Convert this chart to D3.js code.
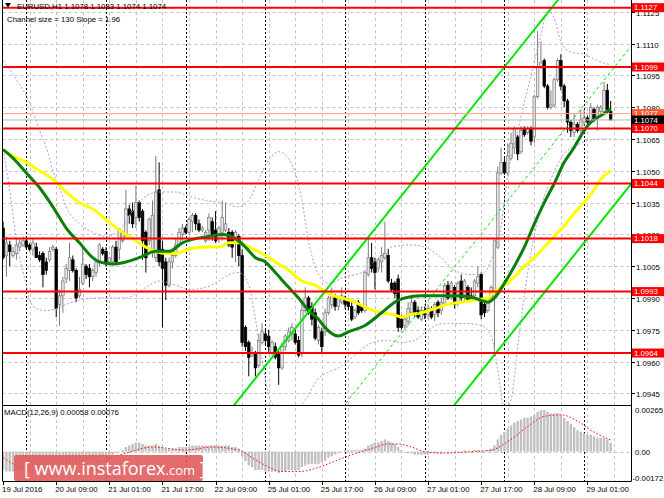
<!DOCTYPE html>
<html><head><meta charset="utf-8">
<script src="https://cdn.jsdelivr.net/npm/d3@7"></script>
<style>body{margin:0;background:#fff}svg{display:block;font-family:"Liberation Sans",Arial,sans-serif}</style>
</head><body><svg id="c" width="664" height="498"></svg>
<script>
// ---------- DATA ----------
const symbolTitle = "EURUSD,H1 1.1078 1.1083 1.1074 1.1074";
const channelTitle = "Channel size = 130 Slope = 1.96";
const macdTitle = "MACD(12,26,9) 0.00058 0.00076";
const opens = [1.1023,1.1010,1.1015,1.1010,1.1011,1.1014,1.1015,1.1017,1.1015,1.1013,1.1014,1.1010,1.1011,1.1007,1.1008,1.1013,1.1013,1.0987,1.0991,1.0999,
1.1003,1.1008,1.1003,1.0991,1.0997,1.1005,1.1004,1.1000,1.1002,1.1007,1.1013,1.1012,1.1007,1.1007,1.1014,1.1013,1.1017,1.1019,1.1032,1.1031,
1.1028,1.1035,1.1031,1.1021,1.1017,1.1013,1.1009,1.1041,1.1013,1.1007,1.0996,1.1007,1.1010,1.1015,1.1020,1.1023,1.1021,1.1026,1.1029,1.1025,
1.1022,1.1017,1.1022,1.1026,1.1022,1.1018,1.1021,1.1022,1.1021,1.1021,1.1016,1.1019,1.1010,1.0976,1.0969,1.0963,1.0964,1.0958,1.0969,1.0973,
1.0972,1.0964,1.0967,1.0964,1.0957,1.0967,1.0970,1.0973,1.0973,1.0970,1.0964,1.0984,1.0990,1.0986,1.0983,1.0970,1.0974,1.0974,1.0983,1.0987,
1.0990,1.0986,1.0988,1.0990,1.0989,1.0986,1.0981,1.0988,1.0986,1.0984,1.1001,1.1009,1.1007,1.1004,1.1007,1.1009,1.1010,1.0997,1.0997,1.0999,
1.0980,1.0977,1.0979,1.0983,1.0988,1.0984,1.0980,1.0984,1.0982,1.0984,1.0982,1.0988,1.0984,1.0987,1.0996,1.0990,1.0995,1.0988,1.0998,1.0990,
1.0995,1.0991,1.0991,1.0997,1.1001,1.0987,1.0984,1.0990,1.0990,1.1014,1.1049,1.1054,1.1049,1.1056,1.1061,1.1066,1.1059,1.1070,1.1068,1.1070,
1.1066,1.1085,1.1099,1.1102,1.1090,1.1080,1.1081,1.1093,1.1102,1.1090,1.1083,1.1073,1.1068,1.1072,1.1069,1.1073,1.1075,1.1073,1.1079,1.1075,
1.1078,1.1078,1.1088,1.1078];
const highs = [1.1026,1.1019,1.1017,1.1014,1.1018,1.1018,1.1019,1.1018,1.1016,1.1018,1.1016,1.1012,1.1012,1.1009,1.1014,1.1015,1.1014,1.0994,1.1000,1.1006,
1.1016,1.1010,1.1004,1.1000,1.1014,1.1006,1.1006,1.1004,1.1008,1.1016,1.1014,1.1014,1.1009,1.1015,1.1017,1.1023,1.1022,1.1041,1.1034,1.1035,
1.1043,1.1036,1.1032,1.1022,1.1028,1.1036,1.1057,1.1054,1.1017,1.1009,1.1009,1.1013,1.1018,1.1023,1.1025,1.1024,1.1028,1.1030,1.1030,1.1027,
1.1024,1.1022,1.1030,1.1028,1.1031,1.1024,1.1036,1.1035,1.1023,1.1022,1.1022,1.1020,1.1013,1.0977,1.0970,1.0967,1.0965,1.0973,1.0978,1.0975,
1.0975,1.0970,1.0969,1.0965,1.0969,1.0973,1.0976,1.0978,1.0975,1.0972,1.0989,1.0995,1.0991,1.0988,1.0985,1.0977,1.0976,1.0985,1.0991,1.0995,
1.0992,1.0991,1.0995,1.0991,1.0990,1.0988,1.0985,1.0989,1.0987,1.1003,1.1018,1.1016,1.1009,1.1009,1.1014,1.1026,1.1013,1.0999,1.0998,1.1001,
1.0982,1.0982,1.0988,1.0990,1.0989,1.0986,1.0986,1.0986,1.0987,1.0986,1.0988,1.0989,1.0990,1.0997,1.0998,1.0998,1.0996,1.0998,1.1001,1.0999,
1.0996,1.0995,1.0999,1.1005,1.1002,1.0988,1.0990,1.0996,1.1018,1.1052,1.1061,1.1056,1.1063,1.1068,1.1071,1.1067,1.1071,1.1071,1.1071,1.1071,
1.1086,1.1116,1.1111,1.1103,1.1091,1.1088,1.1094,1.1103,1.1105,1.1091,1.1084,1.1074,1.1077,1.1073,1.1079,1.1079,1.1076,1.1082,1.1080,1.1081,
1.1081,1.1092,1.1091,1.1083];
const lows = [1.1008,1.1000,1.1005,1.1009,1.1008,1.1012,1.1014,1.1013,1.1012,1.1010,1.1009,1.1007,1.0995,1.1001,1.1007,1.1012,1.0981,1.0977,1.0983,1.0997,
1.0998,1.1002,1.0988,1.0990,1.0996,1.0999,1.0995,1.0998,1.1000,1.1005,1.1010,1.1005,1.1006,1.1006,1.1006,1.1008,1.1016,1.1019,1.1025,1.1023,
1.1023,1.1026,1.1008,1.1002,1.1015,1.1009,1.1007,1.1005,1.0976,1.0989,1.0995,1.1004,1.1009,1.1014,1.1017,1.1020,1.1020,1.1021,1.1022,1.1021,
1.1021,1.1016,1.1017,1.1017,1.1016,1.1016,1.1017,1.1021,1.1014,1.1009,1.1007,1.1005,1.0967,1.0965,1.0953,1.0962,1.0953,1.0957,1.0968,1.0968,
1.0964,1.0963,1.0961,1.0949,1.0956,1.0965,1.0969,1.0970,1.0968,1.0962,1.0962,1.0983,1.0982,1.0977,1.0970,1.0968,1.0964,1.0972,1.0982,1.0985,
1.0984,1.0984,1.0987,1.0985,1.0984,1.0979,1.0980,1.0982,1.0983,1.0983,1.1000,1.1002,1.0994,1.1002,1.1002,1.1008,1.0997,1.0993,1.0990,1.0974,
1.0975,1.0975,1.0977,1.0982,1.0981,1.0980,1.0979,1.0980,1.0980,1.0980,1.0979,1.0981,1.0982,1.0986,1.0989,1.0989,1.0985,1.0986,1.0988,1.0989,
1.0988,1.0988,1.0990,1.0995,1.0980,1.0981,1.0983,1.0989,1.0963,1.1013,1.1048,1.1048,1.1048,1.1055,1.1058,1.1055,1.1058,1.1066,1.1067,1.1062,
1.1063,1.1084,1.1098,1.1089,1.1079,1.1079,1.1080,1.1092,1.1088,1.1080,1.1068,1.1066,1.1066,1.1068,1.1068,1.1071,1.1072,1.1072,1.1073,1.1069,
1.1077,1.1077,1.1078,1.1074];
const closes = [1.1009,1.1016,1.1012,1.1012,1.1015,1.1016,1.1017,1.1014,1.1013,1.1016,1.1009,1.1008,1.1001,1.1003,1.1012,1.1014,1.0985,1.0991,1.0998,1.1004,
1.1009,1.1003,1.0990,1.0994,1.1006,1.1001,1.1000,1.1003,1.1007,1.1015,1.1011,1.1007,1.1009,1.1014,1.1007,1.1022,1.1021,1.1032,1.1029,1.1025,
1.1035,1.1028,1.1017,1.1009,1.1027,1.1029,1.1040,1.1007,1.1004,1.0996,1.1007,1.1010,1.1015,1.1021,1.1023,1.1021,1.1027,1.1029,1.1025,1.1022,
1.1023,1.1021,1.1028,1.1019,1.1017,1.1023,1.1028,1.1025,1.1015,1.1014,1.1021,1.1010,1.0969,1.0967,1.0962,1.0964,1.0957,1.0970,1.0974,1.0970,
1.0967,1.0969,1.0962,1.0957,1.0967,1.0972,1.0974,1.0976,1.0969,1.0963,1.0984,1.0990,1.0983,1.0980,1.0971,1.0976,1.0967,1.0983,1.0990,1.0991,
1.0986,1.0990,1.0991,1.0987,1.0986,1.0980,1.0984,1.0983,1.0984,1.1002,1.1009,1.1004,1.1002,1.1008,1.1010,1.1011,1.0998,1.0994,1.0992,1.0976,
1.0976,1.0980,1.0985,1.0988,1.0983,1.0981,1.0984,1.0982,1.0985,1.0981,1.0987,1.0983,1.0988,1.0996,1.0990,1.0997,1.0987,1.0997,1.0990,1.0998,
1.0989,1.0989,1.0998,1.1000,1.0982,1.0983,1.0990,1.0995,1.1017,1.1049,1.1054,1.1049,1.1057,1.1063,1.1070,1.1058,1.1069,1.1067,1.1070,1.1064,
1.1085,1.1099,1.1101,1.1090,1.1080,1.1081,1.1093,1.1102,1.1090,1.1083,1.1073,1.1069,1.1072,1.1069,1.1074,1.1075,1.1073,1.1080,1.1074,1.1080,
1.1080,1.1088,1.1079,1.1074];

// MACD main line (shown as histogram), in units of 0.0001
const macdMain = [-12,-13,-13,-13,-13,-13,-12,-12,-11,-11,-10,-10,-10,-10,-9,-9,-11,-11,-10,-9,
-8,-8,-8,-8,-7,-6,-6,-5,-5,-4,-3,-3,-2,-2,-1,0,1,3,4,5,
6,6,5,4,4,4,5,4,3,2,2,2,2,3,3,3,3,4,4,4,
4,4,4,4,4,4,4,4,4,3,3,2,-3,-6,-9,-10,-12,-12,-12,-13,
-13,-13,-13,-14,-13,-13,-12,-12,-12,-12,-10,-9,-8,-8,-8,-8,-7,-6,-4,-3,
-2,-1,0,1,1,1,1,1,1,2,4,5,6,6,7,8,7,6,5,3,
1,0,-1,-1,-2,-2,-2,-2,-2,-1,-1,-1,-1,0,0,0,0,0,0,1,
0,0,1,1,0,0,1,2,4,8,11,13,15,17,19,20,21,22,22,23,
24,26,27,27,26,25,25,25,24,22,20,18,16,14,13,12,11,11,10,9,
9,9,8,5.8];
// MACD signal line points [bar, value*1e4]
const macdSignal = [[0,-4],[3,-8],[7,-12],[12,-13],[18,-11],[25,-8],[31,-5],[37,-1],[45,3],[55,1],[63,3],[71,1],[75,-4],[79,-9],[84,-13],[89,-13],[94,-11],[99,-7],[105,-2],[111,2],[116,5],[119,5],[123,3],[127,0],[133,-1],[141,0],[147,1],[153,8],[159,18],[163,23],[168,24],[173,20],[177,14],[183,7.6]];

// Moving averages [bar, price]
const maGreen = [[0,1.1060],[3,1.1056],[7,1.1049],[11,1.1042],[15,1.1033],[19,1.1023],[23,1.1016],[27,1.1009],[29,1.1007],[33,1.1006],[37,1.1007],[41,1.1009],[46,1.1012],[50,1.1012],[54,1.1016],[58,1.1018],[62,1.1019],[66,1.1020],[70,1.1018],[73,1.1014],[76,1.1009],[79,1.1007],[82,1.1002],[86,1.0995],[89,1.0990],[92,1.0984],[95,1.0980],[97,1.0976],[101,1.0972],[104,1.0974],[109,1.0977],[114,1.0983],[119,1.0989],[121,1.0990],[126,1.0991],[132,1.0991],[137,1.0991],[142,1.0990],[146,1.0988],[148,1.0990],[151,1.0997],[154,1.1005],[157,1.1014],[160,1.1025],[163,1.1035],[166,1.1044],[169,1.1054],[172,1.1061],[175,1.1069],[177,1.1073],[180,1.1076],[183,1.1079]];
const maYellow = [[0,1.1060],[3,1.1057],[7,1.1054],[11,1.1050],[15,1.1046],[19,1.1040],[23,1.1035],[27,1.1032],[31,1.1027],[35,1.1022],[39,1.1018],[43,1.1014],[46,1.1012],[49,1.1011],[52,1.1011],[56,1.1013],[61,1.1014],[65,1.1014],[68,1.1016],[71,1.1016],[74,1.1014],[78,1.1011],[82,1.1007],[86,1.1003],[90,1.0998],[94,1.0996],[98,1.0992],[102,1.0990],[106,1.0988],[110,1.0985],[114,1.0983],[118,1.0982],[120,1.0981],[122,1.0982],[126,1.0983],[130,1.0985],[134,1.0987],[138,1.0988],[142,1.0989],[146,1.0990],[148,1.0993],[151,1.0996],[154,1.1000],[157,1.1005],[160,1.1009],[163,1.1014],[166,1.1019],[169,1.1024],[172,1.1030],[175,1.1035],[178,1.1041],[180,1.1046],[183,1.1050]];
// Bollinger bands [bar, price]
const bandUpper = [[0,1.1102],[4,1.1093],[8,1.1082],[11,1.1069],[13,1.1061],[15,1.1050],[17,1.1042],[19,1.1033],[23,1.1025],[27,1.1021],[31,1.1019],[35,1.1022],[39,1.1031],[43,1.1038],[47,1.1040],[52,1.1040],[56,1.1038],[61,1.1036],[66,1.1035],[71,1.1033],[74,1.1036],[77,1.1046],[80,1.1055],[83,1.1059],[87,1.1053],[90,1.1036],[92,1.1017],[95,1.1001],[98,1.0997],[103,1.1000],[108,1.1002],[113,1.1009],[117,1.1014],[123,1.1015],[127,1.1014],[132,1.1009],[136,1.1003],[141,1.1001],[145,1.1002],[147,1.1008],[150,1.1024],[152,1.1048],[155,1.1069],[159,1.1095],[162,1.1114],[164,1.1126],[166,1.1122],[168,1.1111],[171,1.1106],[175,1.1105],[179,1.1102],[183,1.1100]];
const bandLower = [[0,1.1060],[2,1.1041],[4,1.1017],[7,1.0996],[8,1.0989],[10,1.0985],[13,1.0984],[16,1.0985],[19,1.0987],[23,1.0989],[28,1.0990],[32,1.0990],[37,1.0990],[41,1.0993],[44,1.0996],[47,1.0998],[52,1.0996],[56,1.0994],[61,1.0995],[65,1.0998],[68,1.1001],[71,1.1002],[74,1.0996],[76,1.0980],[78,1.0961],[80,1.0944],[83,1.0937],[88,1.0937],[91,1.0942],[95,1.0952],[98,1.0955],[101,1.0957],[106,1.0963],[110,1.0968],[115,1.0970],[120,1.0969],[124,1.0970],[128,1.0975],[133,1.0978],[139,1.0978],[144,1.0977],[147,1.0972],[149,1.0956],[151,1.0937],[153,1.0942],[155,1.0967],[158,1.1002],[161,1.1027],[165,1.1046],[169,1.1058],[174,1.1063],[179,1.1065],[183,1.1065]];

// Price channel: upper line anchor [bar, price], slope per bar, channel size
const channelAnchor = [166.3, 1.1129];
const channelSlope = 0.000196;
const channelSize = 0.0130;

// Horizontal levels
const redLevels = [1.1127, 1.1099, 1.1070, 1.1044, 1.1018, 1.0993, 1.0964];
const askLevel = 1.1077, bidLevel = 1.1074;
const priceTicks = [1.1125,1.1110,1.1095,1.1080,1.1065,1.1050,1.1035,1.1020,1.1005,1.0990,1.0975,1.0960,1.0945];
const macdTicks = [0.00265, 0.00, -0.00172];
const macdTickLabels = ["0.00265","0.00","-0.00172"];
const timeLabelBars = [0,16,32,48,64,80,96,112,128,144,160,176];
const timeLabels = ["19 Jul 2016","20 Jul 09:00","21 Jul 01:00","21 Jul 17:00","22 Jul 09:00","25 Jul 01:00","25 Jul 17:00","26 Jul 09:00","27 Jul 01:00","27 Jul 17:00","28 Jul 09:00","29 Jul 01:00"];
const daySeparatorBars = [7,31,55,79,103,127,151,175];

// ---------- DRAW ----------
const svg = d3.select("#c");
const FS = "7.8px";
const PL = 2.5, PR = 631, MT = 0, MB = 405, DT = 405, DB = 481;
const n = closes.length;
const x = d3.scaleLinear().domain([0, 183]).range([3.1, 3.1 + 183 * 3.32]);
const y = d3.scaleLinear().domain([1.0945, 1.1125]).range([393.3, 11.9]);
const ym = d3.scaleLinear().domain([-0.00172, 0.00265]).range([478, 411]);

const defs = svg.append("defs");
defs.append("clipPath").attr("id","cm").append("rect").attr("x",PL).attr("y",MT).attr("width",PR-PL).attr("height",MB-MT);
defs.append("clipPath").attr("id","cd").append("rect").attr("x",PL).attr("y",DT).attr("width",PR-PL).attr("height",DB-DT);

svg.append("rect").attr("width",664).attr("height",498).attr("fill","#fff");

// grid
const grid = svg.append("g");
priceTicks.forEach(p => grid.append("line").attr("x1",PL).attr("x2",PR).attr("y1",Math.round(y(p))+0.5).attr("y2",Math.round(y(p))+0.5)
  .attr("stroke","#c4c4c4").attr("stroke-dasharray","3,3"));
d3.range(0, 190, 8).forEach(b => { const xx = Math.round(x(b))+0.5; if (xx > PL+1 && xx < PR)
  grid.append("line").attr("x1",xx).attr("x2",xx).attr("y1",MT).attr("y2",DB).attr("stroke","#c4c4c4").attr("stroke-dasharray","3,3"); });
grid.append("line").attr("x1",PL).attr("x2",PR).attr("y1",Math.round(ym(0))+0.5).attr("y2",Math.round(ym(0))+0.5).attr("stroke","#c4c4c4").attr("stroke-dasharray","3,3");
daySeparatorBars.forEach(b => { const xx = Math.round(x(b))+0.5;
  grid.append("line").attr("x1",xx).attr("x2",xx).attr("y1",MT).attr("y2",DB).attr("stroke","#000").attr("stroke-dasharray","2,2").attr("stroke-width",1); });

// main panel content
const main = svg.append("g").attr("clip-path","url(#cm)");

// candles
const cg = main.append("g");
for (let i = 0; i < n; i++) {
  const bull = closes[i] >= opens[i];
  const cx = x(i);
  cg.append("line").attr("x1",cx).attr("x2",cx).attr("y1",y(highs[i])).attr("y2",y(lows[i]))
    .attr("stroke", bull ? "#7a7a7a" : "#000").attr("stroke-width",1);
  const top = y(Math.max(opens[i], closes[i])), bot = y(Math.min(opens[i], closes[i]));
  cg.append("rect").attr("x",cx-1.3).attr("width",2.6).attr("y",top).attr("height",Math.max(1,bot-top))
    .attr("fill", bull ? "#e4e4e4" : "#000").attr("stroke", bull ? "#7a7a7a" : "#000").attr("stroke-width",0.7);
}

const ln = d3.line().x(d => x(d[0])).y(d => y(d[1])).curve(d3.curveMonotoneX);
// bands
[bandUpper, bandLower].forEach(b => main.append("path").attr("d", ln(b)).attr("fill","none")
  .attr("stroke","#c08ef0").attr("stroke-width",1).attr("stroke-dasharray","2,2"));
// MAs
main.append("path").attr("d", ln(maYellow)).attr("fill","none").attr("stroke","#ffff00").attr("stroke-width",3);
main.append("path").attr("d", ln(maGreen)).attr("fill","none").attr("stroke","#0a7f0a").attr("stroke-width",3);

// channel
const chPrice = (b, off) => channelAnchor[1] + (b - channelAnchor[0]) * channelSlope - off;
[[0, 2, null], [channelSize/2, 1, "3,3"], [channelSize, 2, null]].forEach(([off, w, dash]) => {
  const pts = [[40, chPrice(40, off)], [195, chPrice(195, off)]];
  const p = main.append("path").attr("d", d3.line().x(d => x(d[0])).y(d => y(d[1]))(pts)).attr("fill","none")
    .attr("stroke","#00e600").attr("stroke-width",w);
  if (dash) p.attr("stroke-dasharray",dash);
});

// horizontal levels
main.append("line").attr("x1",PL).attr("x2",PR).attr("y1",y(askLevel)).attr("y2",y(askLevel)).attr("stroke","#ff9f80").attr("stroke-width",1);
main.append("line").attr("x1",PL).attr("x2",PR).attr("y1",y(bidLevel)).attr("y2",y(bidLevel)).attr("stroke","#b8b8b8").attr("stroke-width",1);
redLevels.forEach(p => main.append("line").attr("x1",PL).attr("x2",PR).attr("y1",y(p)).attr("y2",y(p)).attr("stroke","#ff0000").attr("stroke-width",2));

// MACD panel
const md = svg.append("g").attr("clip-path","url(#cd)");
macdMain.forEach((v, i) => {
  const val = v / 10000;
  md.append("rect").attr("x", x(i)-1.2).attr("width",2.4)
    .attr("y", Math.min(ym(val), ym(0))).attr("height", Math.max(0.5, Math.abs(ym(val)-ym(0))))
    .attr("fill","#c0c0c0");
});
md.append("path").attr("d", d3.line().x(d => x(d[0])).y(d => ym(d[1]/10000)).curve(d3.curveMonotoneX)(macdSignal))
  .attr("fill","none").attr("stroke","#ff0000").attr("stroke-width",1).attr("stroke-dasharray","1.5,2");

// frames
const fr = svg.append("g").attr("stroke","#000").attr("stroke-width",1);
fr.append("line").attr("x1",2.5).attr("x2",2.5).attr("y1",0).attr("y2",DB);
fr.append("line").attr("x1",PR+0.5).attr("x2",PR+0.5).attr("y1",0).attr("y2",DB);
fr.append("line").attr("x1",2.5).attr("x2",PR+0.5).attr("y1",MB+0.5).attr("y2",MB+0.5);
fr.append("line").attr("x1",2.5).attr("x2",PR+0.5).attr("y1",DB+0.5).attr("y2",DB+0.5);

// right axis labels
const ax = svg.append("g").attr("font-size",FS);
priceTicks.forEach(p => {
  const yy = Math.round(y(p))+0.5;
  ax.append("line").attr("x1",PR+0.5).attr("x2",PR+4).attr("y1",yy).attr("y2",yy).attr("stroke","#000");
  ax.append("text").attr("x",636).attr("y",yy+1.5).attr("dominant-baseline","middle").text(p.toFixed(4));
});
macdTicks.forEach((v, k) => {
  ax.append("text").attr("x",k===2?632.5:635).attr("y",ym(v)+(k===0?0:1)).attr("dominant-baseline","middle").text(macdTickLabels[k]);
});
// level boxes
function box(p, fill, col) {
  ax.append("rect").attr("x",PR+1).attr("y",y(p)-4.5).attr("width",664-PR-1).attr("height",9).attr("fill",fill);
  ax.append("text").attr("x",634).attr("y",y(p)+0.5).attr("dominant-baseline","middle").attr("fill",col).text(p.toFixed(4));
}
redLevels.filter(p => p !== 1.1070).forEach(p => box(p, "#ff0000", "#fff"));
box(askLevel, "#ff5a30", "#fff");
box(bidLevel, "#000", "#fff");
box(1.1070, "#ff0000", "#fff");

// time axis
timeLabelBars.forEach((b, k) => {
  const xx = Math.round(x(b))+0.5;
  ax.append("line").attr("x1",xx).attr("x2",xx).attr("y1",DB).attr("y2",DB+4).attr("stroke","#000");
  ax.append("text").attr("x",x(b)-1).attr("y",492).text(timeLabels[k]);
});

// headers
const hd = svg.append("g").attr("font-size",FS);
hd.append("path").attr("d","M5,3 L11,3 L8,7.5 Z").attr("fill","#000");
hd.append("text").attr("x",17).attr("y",9).text(symbolTitle);
hd.append("text").attr("x",7).attr("y",22).text(channelTitle);
hd.append("text").attr("x",4).attr("y",415).text(macdTitle);

// watermark
const wm = svg.append("g");
wm.append("rect").attr("x",14).attr("y",455).attr("width",189).attr("height",26).attr("rx",2).attr("fill","#e05858").attr("opacity",0.88);
const wt = wm.append("text").attr("x",24).attr("y",474.5).attr("fill","#fff").attr("font-size","18px").attr("font-family","'Open Sans','Liberation Sans',Arial,sans-serif");
wt.append("tspan").text("[ www.instaforex");
wt.append("tspan").attr("font-size","13px").text(".com");
wt.append("tspan").text(" ]");
</script></body></html>
